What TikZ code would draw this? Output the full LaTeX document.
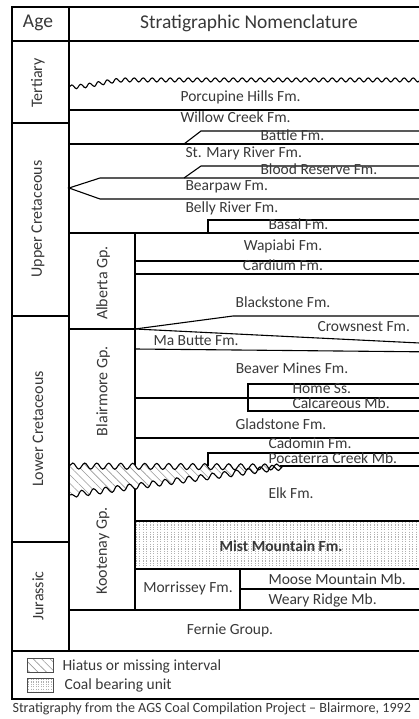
\documentclass[tikz,border=0pt]{standalone}
\usepackage{fontspec}
\setmainfont{Carlito}
\usetikzlibrary{decorations.pathmorphing,patterns.meta}

\begin{document}
\begin{tikzpicture}[x=1pt,y=-1pt,line width=1.1pt,
  unit/.style={font=\fontsize{15.5}{18}\selectfont,text=black!78,inner sep=0pt},
  head/.style={font=\fontsize{19.5}{22}\selectfont,text=black!78,inner sep=0pt},
  era/.style={font=\fontsize{16}{18}\selectfont,text=black!78,inner sep=0pt,rotate=90},
  wave/.style={decorate,decoration={snake,segment length=9pt,amplitude=2pt}},
  gapwave/.style={decoration={snake,segment length=12pt,amplitude=3pt}},
  hiatus/.style={pattern={Lines[angle=-45,distance=6pt,line width=0.6pt]},pattern color=black!40},
  coaldash/.style={line width=0.5pt,draw=black!30,dash pattern=on 1.2pt off 1.2pt},
]
\useasboundingbox (0,0) rectangle (419,719);
\clip (0,0) rectangle (419,719);

% coal bearing unit (Mist Mountain)
\foreach \x in {136,139.5,...,440}
  \draw[coaldash] (\x,522) -- (\x,568);

% header and age column
\draw (12,41) -- (440,41);
\draw (12,123) -- (69,123);
\draw (12,316) -- (69,316);
\draw (12,542) -- (69,542);
\node[head] (age) at (38,23) {Age};
\node[head] (nomen) at (249,23) {Stratigraphic Nomenclature};
\node[era] (tertiary) at (38,83) {Tertiary};
\node[era] (uppercret) at (38,219) {Upper Cretaceous};
\node[era] (lowercret) at (38,429) {Lower Cretaceous};
\node[era] (jurassic) at (38,596) {Jurassic};

% Tertiary / Upper Cretaceous
\draw[wave] (69,87) .. controls (95,86) and (105,80) .. (125,80) -- (440,80);
\draw (69,110) -- (440,110);
\draw (184,144) -- (201,131) -- (440,131);
\draw (69,144) -- (440,144);
\draw (184,178) -- (201,166) -- (440,166);
\draw (440,178) -- (100,178) -- (69,188) -- (100,199) -- (440,199);
\draw (208,233) -- (208,220) -- (440,220);
\draw (69,233) -- (440,233);
\node[unit,anchor=west] (porcupine) at (180,97) {Porcupine Hills Fm.};
\node[unit,anchor=west] (willow) at (180,117) {Willow Creek Fm.};
\node[unit,anchor=west] (battle) at (260,135) {Battle Fm.};
\node[unit,anchor=west] (stmary) at (185,153) {St. Mary River Fm.};
\node[unit,anchor=west] (blood) at (260,169) {Blood Reserve Fm.};
\node[unit,anchor=west] (bearpaw) at (185,187) {Bearpaw Fm.};
\node[unit,anchor=west] (belly) at (185,208) {Belly River Fm.};
\node[unit,anchor=west] (basal) at (268,224) {Basal Fm.};

% Alberta Gp.
\draw (135,261) -- (440,261);
\draw (135,274) -- (440,274);
\draw (69,329) -- (135,329);
\draw (135,329) -- (233,316) -- (440,316);
\draw (135,329) -- (440,344);
\node[era] (alberta) at (103,283) {Alberta Gp.};
\node[unit] (wapiabi) at (283,246) {Wapiabi Fm.};
\node[unit] (cardium) at (283,265) {Cardium Fm.};
\node[unit] (blackstone) at (283,302) {Blackstone Fm.};
\node[unit,anchor=west] (crowsnest) at (317,327) {Crowsnest Fm.};

% Blairmore Gp.
\draw (135,349) -- (440,352);
\draw (440,384) -- (248,384) -- (248,411) -- (440,411);
\draw (135,398) -- (440,398);
\draw (135,438) -- (440,438);
\draw (208,466) -- (208,453) -- (440,453);
\draw (280,466) -- (440,466);
\node[era] (blairmore) at (103,391) {Blairmore Gp.};
\node[unit,anchor=west] (mabutte) at (153,341) {Ma Butte Fm.};
\node[unit] (beaver) at (292,368) {Beaver Mines Fm.};
\node[unit,anchor=west] (home) at (292,389) {Home Ss.};
\node[unit,anchor=west] (calcareous) at (292,403) {Calcareous Mb.};
\node[unit] (gladstone) at (281,424) {Gladstone Fm.};
\node[unit,anchor=west] (cadomin) at (268,443) {Cadomin Fm.};
\node[unit,anchor=west] (pocaterra) at (268,458) {Pocaterra Creek Mb.};

% Kootenay Gp.
\draw (135,233) -- (135,610);
\draw (135,521) -- (440,521);
\draw (135,569) -- (440,569);
\draw (240,569) -- (240,610);
\draw (240,589) -- (440,589);
\draw (69,610) -- (440,610);
\node[era] (kootenay) at (103,551) {Kootenay Gp.};
\node[unit,anchor=west] (elk) at (268,493) {Elk Fm.};
\node[unit,font=\fontsize{15.5}{18}\selectfont\bfseries] (mist) at (281,546) {Mist Mountain Fm.};
\node[unit] (morrissey) at (188,588) {Morrissey Fm.};
\node[unit,anchor=west] (moose) at (268,579) {Moose Mountain Mb.};
\node[unit,anchor=west] (weary) at (268,600) {Weary Ridge Mb.};
\node[unit] (fernie) at (230,630) {Fernie Group.};

% hiatus
\fill[white] (69,466) decorate[gapwave] {-- (282,467)}
  decorate[gapwave] {-- (69,495)} -- cycle;
\fill[hiatus] (69,466) decorate[gapwave] {-- (282,467)}
  decorate[gapwave] {-- (69,495)} -- cycle;
\draw[gapwave,decorate] (69,466) -- (282,467);
\draw[gapwave,decorate] (282,467) -- (69,495);

% frame
\draw (69,7) -- (69,651);
\draw (12,651) -- (440,651);
\draw[line width=2.4pt] (12,7) rectangle (440,699);

% legend
\draw[hiatus,draw=black!70,line width=0.8pt] (27,658) rectangle (53,672);
\foreach \x in {28.5,31,...,52}
  \draw[coaldash,line width=0.4pt] (\x,679) -- (\x,691);
\draw[draw=black!70,line width=0.8pt] (27,678) rectangle (53,692);
\node[unit,anchor=west] (hiatuskey) at (62,666) {Hiatus or missing interval};
\node[unit,anchor=west] (coalkey) at (64,685) {Coal bearing unit};
\node[unit,anchor=west,font=\fontsize{14.1}{16}\selectfont] (source) at (12,709)
  {Stratigraphy from the AGS Coal Compilation Project – Blairmore, 1992};
\end{tikzpicture}
\end{document}
